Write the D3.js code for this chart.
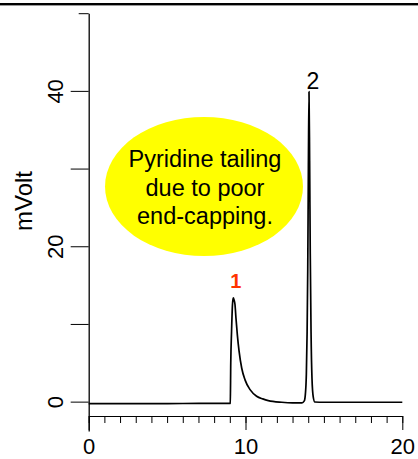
<!DOCTYPE html>
<html>
<head>
<meta charset="utf-8">
<script src="https://cdn.jsdelivr.net/npm/d3@7"></script>
<style>
  html, body { margin: 0; padding: 0; background: #fff; }
  svg { display: block; }
  text { font-family: "Liberation Sans", Arial, Helvetica, sans-serif; }
</style>
</head>
<body>
<svg id="chart" width="418" height="459"></svg>
<script>
// ---- data ----
const timeMin = [0, 2, 4, 6, 8, 8.8, 9.0, 9.03, 9.06, 9.11, 9.17, 9.22, 9.27, 9.33, 9.39, 9.48, 9.59, 9.76, 9.97, 10.29, 10.71, 11.1, 11.45, 12.31, 13.0, 13.6, 13.75, 13.82, 13.88, 13.93, 13.97, 14.01, 14.05, 14.09, 14.13, 14.18, 14.24, 14.32, 14.42, 15, 16, 17, 18, 19, 20];
const mVolt   = [-0.25, -0.25, -0.25, -0.24, -0.23, -0.22, -0.22, -0.2, 5, 9, 12.5, 13.35, 13.1, 12.5, 10.8, 8.6, 6.5, 4.3, 2.8, 1.55, 0.7, 0.35, 0.13, -0.08, -0.15, -0.15, 0.1, 1.0, 3.5, 9, 17, 30, 39.9, 31, 19, 9, 3, 0.6, -0.05, -0.08, -0.08, -0.08, -0.08, -0.08, -0.08];
const xTicksMinor = d3.range(0, 21, 1);
const xTicksMajor = [0, 10, 20];
const yTicks = [0, 10, 20, 30, 40, 50];
const yTickLabels = [0, 20, 40];
const peakLabels = [{ t: 9.22, v: 13.35, text: "1" }, { t: 14.05, v: 39.9, text: "2" }];
const noteLines = ["Pyridine tailing", "due to poor", "end-capping."];
const yAxisTitle = "mVolt";

// ---- layout ----
const svg = d3.select("#chart");
const x = d3.scaleLinear().domain([0, 20]).range([88.7, 402.3]);
const y = d3.scaleLinear().domain([-3.78, 50]).range([431, 13.2]);

// top rule
svg.append("rect").attr("x", 0).attr("y", 3).attr("width", 418).attr("height", 2.4).attr("fill", "#000");

// annotation bubble
svg.append("ellipse")
  .attr("cx", 204).attr("cy", 186.5).attr("rx", 99).attr("ry", 69.5)
  .attr("fill", "#ffff00");
svg.append("g").selectAll("text").data(noteLines).join("text")
  .attr("x", 205)
  .attr("y", (d, i) => 167 + i * 28.5)
  .attr("text-anchor", "middle")
  .attr("font-size", 23.5)
  .attr("fill", "#000")
  .text(d => d);

// Y axis
const yAxis = d3.axisLeft(y).tickValues(yTicks).tickSize(18).tickSizeOuter(0)
  .tickFormat(d => yTickLabels.includes(d) ? d : "");
const gy = svg.append("g").attr("transform", `translate(${x(0)},0)`).call(yAxis);
gy.select(".domain").attr("stroke", "#000").attr("stroke-width", 1.3);
gy.selectAll(".tick line").attr("stroke", "#000").attr("stroke-width", 1)
  .attr("x2", d => d === 50 ? -10 : -18);
gy.selectAll(".tick text")
  .attr("x", null).attr("dy", null)
  .attr("transform", "translate(-25.7,0) rotate(-90)")
  .attr("text-anchor", "middle")
  .attr("font-size", 22)
  .attr("font-family", "Liberation Sans, Arial, sans-serif")
  .attr("fill", "#000");

// X axis (minor)
const xAxisMinor = d3.axisBottom(x).tickValues(xTicksMinor).tickSize(7).tickSizeOuter(0).tickFormat("");
const gx = svg.append("g").attr("transform", "translate(0,416)").call(xAxisMinor);
gx.select(".domain").attr("stroke", "#000").attr("stroke-width", 1);
gx.selectAll(".tick line").attr("stroke", "#000");
// X axis (major)
const xAxisMajor = d3.axisBottom(x).tickValues(xTicksMajor).tickSize(14).tickSizeOuter(0).tickFormat(d3.format("d"));
const gx2 = svg.append("g").attr("transform", "translate(0,416)").call(xAxisMajor);
gx2.select(".domain").remove();
gx2.selectAll(".tick line").attr("stroke", "#000");
gx2.selectAll(".tick text")
  .attr("y", 38.3).attr("dy", null)
  .attr("font-size", 22)
  .attr("font-family", "Liberation Sans, Arial, sans-serif")
  .attr("fill", "#000");

// Y axis title
svg.append("text")
  .attr("transform", "translate(32,201) rotate(-90)")
  .attr("text-anchor", "middle")
  .attr("font-size", 24)
  .attr("fill", "#000")
  .text(yAxisTitle);

// chromatogram trace
const pts = timeMin.map((t, i) => [t, mVolt[i]]);
const line = d3.line().x(d => x(d[0])).y(d => y(d[1])).curve(d3.curveMonotoneX);
svg.append("path").datum(pts)
  .attr("d", line)
  .attr("fill", "none")
  .attr("stroke", "#000")
  .attr("stroke-width", 1.7)
  .attr("stroke-linejoin", "round");

// peak labels
svg.append("text")
  .attr("x", x(peakLabels[0].t) + 2.5).attr("y", y(peakLabels[0].v) - 10)
  .attr("text-anchor", "middle").attr("font-size", 20).attr("font-weight", "bold")
  .attr("fill", "#ff3300").text(peakLabels[0].text);
svg.append("text")
  .attr("x", x(peakLabels[1].t) + 4).attr("y", y(peakLabels[1].v) - 2.3)
  .attr("text-anchor", "middle").attr("font-size", 23)
  .attr("fill", "#000").text(peakLabels[1].text);
</script>
</body>
</html>
